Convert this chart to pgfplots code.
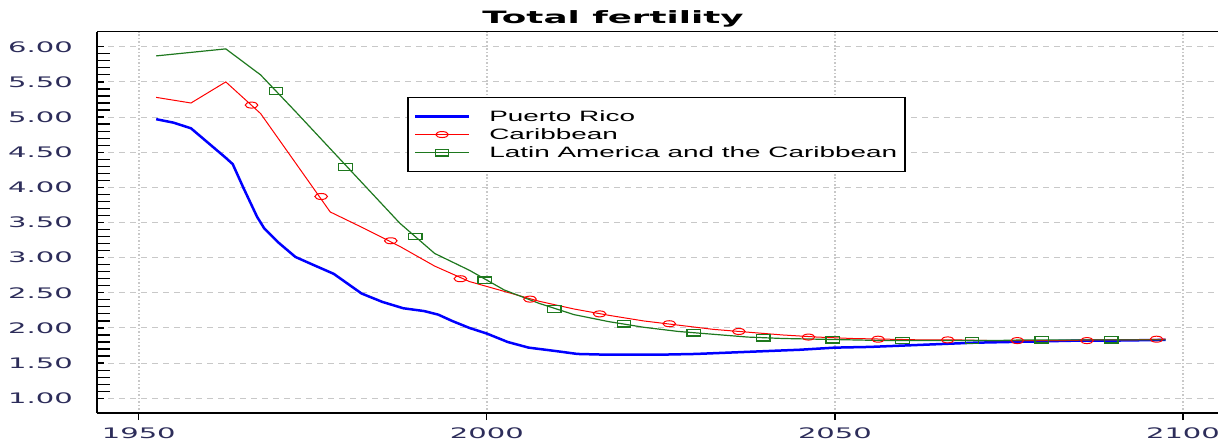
\documentclass[border=0pt]{standalone}
\usepackage{pgfplots}
\pgfplotsset{compat=1.18}
\usepackage{fontspec}
\setmainfont{Liberation Sans}
\newfontfamily\tickfont[FakeStretch=2.0]{DejaVu Sans}
\newfontfamily\titlefont[FakeStretch=2.1]{DejaVu Sans}
\newfontfamily\legfont[FakeStretch=1.86]{Liberation Sans}
\definecolor{tickcol}{RGB}{45,45,90}
\definecolor{dgreen}{RGB}{30,120,30}
\definecolor{gridgray}{RGB}{200,200,200}
\begin{document}
\begin{tikzpicture}
\useasboundingbox (0,0) rectangle (1218bp,443bp);
\begin{axis}[
  at={(97bp,30bp)}, anchor=south west,
  scale only axis, width=1125bp, height=381bp,
  xmin=1944, xmax=2105.6, ymin=0.79, ymax=6.21,
  clip=false,
  axis line style={draw=none},
  xtick={1950,2000,2050,2100},
  ytick={1,1.5,2,2.5,3,3.5,4,4.5,5,5.5,6},
  minor y tick num=4,
  xtick pos=left, ytick pos=left,
  xtick align=outside, ytick align=inside,
  major tick length=7bp, minor tick length=13bp,
  tick style={black, line width=1.2bp},
  xmajorgrids, ymajorgrids,
  x grid style={gridgray, line width=1.5bp, dotted},
  y grid style={gridgray, line width=1bp, dash pattern=on 6bp off 5bp},
  /pgf/number format/assume math mode=true,
  tick label style={font=\tickfont\fontsize{14.5bp}{16bp}\selectfont, text=tickcol},
  y tick label style={/pgf/number format/.cd, fixed, fixed zerofill, precision=2, /tikz/.cd, anchor=east, inner xsep=0pt, xshift=-24bp},
  x tick label style={/pgf/number format/1000 sep={}, anchor=north, inner ysep=0pt, yshift=-8bp},
  legend image code/.code={\draw[mark repeat=2,mark phase=2,#1] plot coordinates {(0bp,0bp) (27bp,0bp) (54bp,0bp)};},
  legend cell align=left,
  legend style={at={(0.2756,0.8294)}, anchor=north west, draw=black, line width=1.5bp,
    inner xsep=6bp, inner ysep=9.5bp, row sep=0bp,
    font=\legfont\fontsize{15bp}{15bp}\selectfont,
    nodes={inner ysep=2.1bp, text height=12bp, text depth=2bp},
    /tikz/every odd column/.append style={column sep=17bp}},
]
\addplot[blue, line width=2.5bp, forget plot] coordinates {
(1952.5,4.97) (1955,4.92) (1957.5,4.84) (1960,4.63) (1962.5,4.42) (1963.5,4.33) (1965,4.00) (1967,3.58) (1968,3.42) (1970,3.22) (1972.5,3.01) (1975,2.90) (1978,2.77) (1980,2.63) (1982,2.49) (1985,2.37) (1988,2.28) (1991,2.24) (1993,2.19) (1995,2.10) (1997.5,2.00) (2000,1.92) (2003,1.80) (2006,1.72) (2010,1.67) (2013,1.63) (2017,1.62) (2025,1.62) (2030,1.63) (2035,1.65) (2040,1.67) (2045,1.69) (2050,1.72) (2055,1.73) (2060,1.75) (2065,1.77) (2070,1.79) (2075,1.80) (2080,1.81) (2085,1.82) (2090,1.82) (2097.5,1.83)
};
\addplot[red, line width=1bp, forget plot] coordinates {
(1952.5,5.28) (1957.5,5.20) (1962.5,5.50) (1967.5,5.05) (1972.5,4.35) (1977.5,3.65) (1982.5,3.41) (1987.5,3.16) (1992.5,2.88) (1997.5,2.66) (2002.5,2.52) (2007.5,2.38) (2012.5,2.27) (2017.5,2.18) (2022.5,2.10) (2027.5,2.04) (2032.5,1.98) (2037.5,1.94) (2042.5,1.90) (2047.5,1.87) (2052.5,1.85) (2057.5,1.84) (2062.5,1.83) (2067.5,1.83) (2072.5,1.82) (2077.5,1.82) (2082.5,1.82) (2087.5,1.83) (2092.5,1.83) (2097.5,1.84)
};
\addplot[dgreen, line width=1.2bp, forget plot] coordinates {
(1952.5,5.87) (1957.5,5.92) (1962.5,5.97) (1967.5,5.60) (1972.5,5.08) (1977.5,4.55) (1982.5,4.02) (1987.5,3.49) (1992.5,3.06) (1997.5,2.82) (2002.5,2.54) (2007.5,2.35) (2012.5,2.19) (2017.5,2.09) (2022.5,2.01) (2027.5,1.95) (2032.5,1.91) (2037.5,1.87) (2042.5,1.85) (2047.5,1.84) (2052.5,1.83) (2057.5,1.82) (2062.5,1.82) (2067.5,1.82) (2072.5,1.82) (2077.5,1.83) (2082.5,1.83) (2087.5,1.83) (2092.5,1.83) (2097.5,1.83)
};
\addplot[red, only marks, mark=o, mark size=3bp, mark options={xscale=2.1, line width=1bp}, forget plot] coordinates {
(1966.2,5.17) (1976.2,3.87) (1986.2,3.24) (1996.2,2.70) (2006.2,2.41) (2016.2,2.20) (2026.2,2.06) (2036.2,1.95) (2046.2,1.87) (2056.2,1.84) (2066.2,1.83) (2076.2,1.82) (2086.2,1.82) (2096.2,1.84)
};
\addplot[dgreen, only marks, mark=square, mark size=3.2bp, mark options={xscale=2.1, line width=1.3bp}, forget plot] coordinates {
(1969.7,5.37) (1979.7,4.29) (1989.7,3.30) (1999.7,2.68) (2009.7,2.27) (2019.7,2.06) (2029.7,1.93) (2039.7,1.86) (2049.7,1.83) (2059.7,1.82) (2069.7,1.82) (2079.7,1.83) (2089.7,1.83)
};
\addlegendimage{blue, line width=2.5bp}
\addlegendentry{Puerto Rico}
\addlegendimage{red, line width=1bp, mark=o, mark size=3bp, mark options={xscale=2.1}}
\addlegendentry{Caribbean}
\addlegendimage{dgreen, line width=1.2bp, mark=square, mark size=3.2bp, mark options={xscale=2.1}}
\addlegendentry{Latin America and the Caribbean}
\draw[black, line width=2.5bp] (rel axis cs:0,0) -- (rel axis cs:0,1);
\draw[black, line width=1.2bp] (rel axis cs:0,0) -- (rel axis cs:1,0);
\draw[black, line width=1bp] (rel axis cs:0,1) -- (rel axis cs:1,1);
\end{axis}
\node[font=\titlefont\bfseries\fontsize{17bp}{17bp}\selectfont, anchor=base] at (613bp,419bp) {Total fertility};
\end{tikzpicture}
\end{document}
